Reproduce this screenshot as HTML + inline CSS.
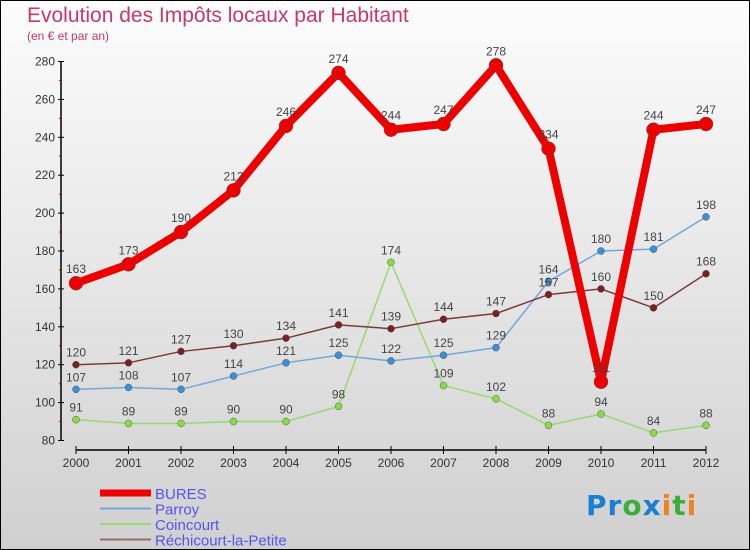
<!DOCTYPE html>
<html><head><meta charset="utf-8"><style>
body{margin:0;}
#c{position:relative;width:750px;height:550px;box-sizing:border-box;border:1px solid #000;background:linear-gradient(#fcfcfc,#d0d0d0);overflow:hidden;font-family:"Liberation Sans",sans-serif;}
.t{position:absolute;color:#c8386a;}
</style></head><body>
<div id="c">
<div class="t" style="left:26px;top:3px;font-size:21px;">Evolution des Impôts locaux par Habitant</div>
<div class="t" style="left:26px;top:28px;font-size:12px;">(en € et par an)</div>
<svg id="s" width="750" height="550" style="position:absolute;left:-1px;top:-1px"></svg>
<div style="position:absolute;left:585px;top:488px;font-size:28px;font-weight:bold;font-family:'DejaVu Sans',sans-serif;letter-spacing:1px"><span style="color:#1a7fd0">Pr</span><span style="color:#3cae3c">o</span><span style="color:#1a7fd0">x</span><span style="color:#f08020">i</span><span style="color:#3cae3c">t</span><span style="color:#f08020">i</span></div>
</div>
<script>
const years=[2000,2001,2002,2003,2004,2005,2006,2007,2008,2009,2010,2011,2012];
const bures=[163,173,190,212,246,274,244,247,278,234,111,244,247];
const parroy=[107,108,107,114,121,125,122,125,129,164,180,181,198];
const coincourt=[91,89,89,90,90,98,174,109,102,88,94,84,88];
const rechicourt=[120,121,127,130,134,141,139,144,147,157,160,150,168];
const yTicks=[80,100,120,140,160,180,200,220,240,260,280];
const NS="http://www.w3.org/2000/svg";
const s=document.getElementById('s');
const X=i=>76+i*(630/12);
const Y=v=>440.5-(v-80)*(379/200);
function el(t,a,p){const e=document.createElementNS(NS,t);for(const k in a)e.setAttribute(k,a[k]);(p||s).appendChild(e);return e;}
// axes
let a=el('line',{x1:61,y1:Y(280),x2:61,y2:Y(80),stroke:'#000','stroke-width':1.5});


a=el('line',{x1:X(0),y1:450,x2:X(12),y2:450,stroke:'#000','stroke-width':1.5});


yTicks.forEach(v=>{
 el('line',{x1:58,y1:Y(v),x2:64,y2:Y(v),stroke:'#000'});
 if(v<280)el('line',{x1:59,y1:Y(v+10),x2:62,y2:Y(v+10),stroke:'#c00'});
 const t=el('text',{x:55,y:Y(v)+4,'text-anchor':'end','font-size':12,fill:'#333'});t.textContent=v;
 
 
});
years.forEach((y,i)=>{
 el('line',{x1:X(i),y1:446,x2:X(i),y2:454,stroke:'#000'});
 const t=el('text',{x:X(i),y:467,'text-anchor':'middle','font-size':12,fill:'#333'});t.textContent=y;
 
 
});
function series(d,col,w,r,dot,name,lbl){
 const g=el('g',{});
 
 
 el('polyline',{points:d.map((v,i)=>X(i)+','+Y(v)).join(' '),fill:'none',stroke:col,'stroke-width':w,'stroke-linejoin':'round'},g);
 d.forEach((v,i)=>{
  const c=el('circle',{cx:X(i),cy:Y(v),r:r,fill:dot,stroke:'#555','stroke-width':0.5},g);
  
  
  const t=el('text',{x:X(i),y:Y(v)-8-(lbl||0),'text-anchor':'middle','font-size':12,fill:'#444'},g);t.textContent=v;
 });
}
series(coincourt,'#98d870',1.5,3.5,'#88dd44','coincourt');
series(parroy,'#70a8d8',1.5,3.5,'#3a90d8','parroy');
series(rechicourt,'#7a3a3a',1.5,3.5,'#7a2020','rechicourt');
series(bures,'#ee0000',8,7,'#ee0000','bures',2);
const leg=[['BURES','#ee0000',7],['Parroy','#70a8d8',2],['Coincourt','#98d870',2],['Réchicourt-la-Petite','#9a6a6a',2]];
leg.forEach((l,i)=>{
 const y=493+i*15.5;
 el('line',{x1:100,y1:y,x2:151,y2:y,stroke:l[1],'stroke-width':l[2]});
 const t=el('text',{x:155,y:y+6,'font-size':15,fill:'#5555ee'});t.textContent=l[0];
 
 
});
</script>
</body></html>
